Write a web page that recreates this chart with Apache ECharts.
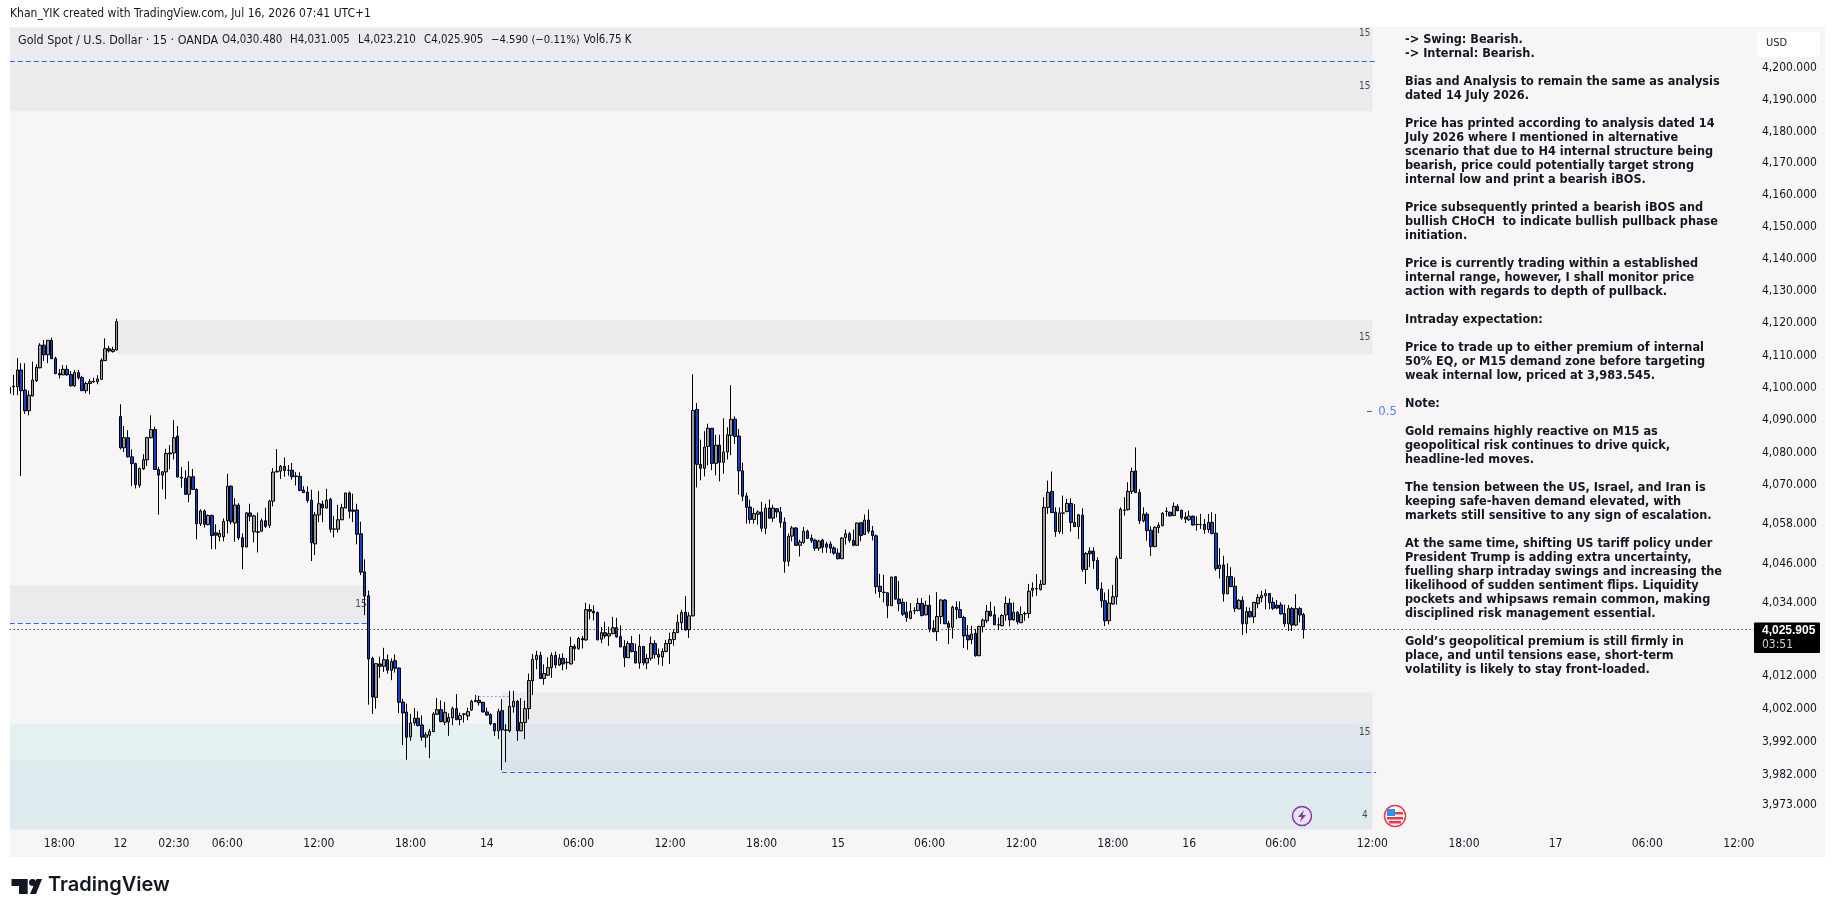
<!DOCTYPE html>
<html>
<head>
<meta charset="utf-8">
<title>Gold Spot / U.S. Dollar</title>
<script src="https://cdn.jsdelivr.net/npm/echarts@6/dist/echarts.min.js"></script>
<style>
html, body { margin: 0; padding: 0; background: #fff; }
#chart { width: 1835px; height: 917px; }
</style>
</head>
<body>
<div id="chart"></div>
<script>
// 15 minute bars: [open, close, low, high]
const candles = [
[4098.3,4100.1,4098.0,4100.4],[4100.3,4100.5,4097.7,4104.0],[4100.3,4105.5,4097.7,4109.2],[4105.5,4099.1,4072.8,4107.6],
[4099.3,4092.9,4091.9,4107.6],[4092.9,4097.7,4091.5,4099.1],[4097.5,4102.4,4097.3,4108.1],[4102.2,4106.3,4101.8,4107.3],
[4106.2,4113.2,4106.0,4113.8],[4113.2,4110.2,4108.3,4114.8],[4110.2,4114.7,4107.6,4114.8],[4114.7,4109.0,4108.9,4115.5],
[4109.1,4104.4,4104.2,4109.6],[4104.4,4104.0,4102.9,4105.8],[4104.0,4105.7,4103.9,4107.0],[4105.7,4104.0,4103.7,4107.0],
[4104.1,4100.6,4100.4,4105.2],[4100.6,4104.7,4100.3,4105.5],[4104.7,4103.1,4102.5,4105.5],[4103.2,4099.1,4099.0,4103.7],
[4099.1,4101.3,4098.3,4101.8],[4101.3,4101.9,4098.0,4102.7],[4101.8,4102.0,4101.6,4103.1],[4101.9,4102.7,4101.1,4103.9],
[4102.6,4108.5,4102.5,4109.1],[4108.4,4112.1,4108.3,4115.3],[4112.1,4111.4,4110.9,4113.0],[4111.2,4111.8,4110.9,4112.7],
[4111.7,4120.5,4111.6,4121.4],[4091.1,4081.5,4081.0,4094.9],[4081.5,4084.6,4080.2,4088.2],[4084.6,4078.7,4078.5,4086.9],
[4078.7,4076.6,4069.7,4081.0],[4076.6,4070.2,4069.0,4076.9],[4070.0,4075.1,4069.2,4075.4],[4075.0,4077.8,4074.7,4079.5],
[4077.8,4084.6,4075.9,4084.9],[4084.6,4087.1,4084.4,4091.5],[4087.1,4074.8,4074.7,4088.0],[4074.8,4073.1,4061.0,4075.6],
[4073.1,4074.1,4068.7,4074.3],[4074.1,4079.7,4065.7,4081.2],[4079.6,4079.9,4074.9,4082.3],[4079.9,4084.6,4077.9,4090.0],
[4085.1,4072.5,4072.4,4088.2],[4072.5,4072.2,4069.2,4075.6],[4072.1,4067.2,4067.0,4074.6],[4067.2,4072.6,4064.8,4077.3],
[4072.6,4068.7,4068.5,4075.0],[4068.7,4058.2,4053.4,4069.0],[4058.2,4062.1,4057.5,4062.6],[4062.1,4058.0,4057.0,4062.6],
[4057.9,4060.7,4057.7,4061.0],[4060.7,4054.6,4050.4,4061.0],[4055.4,4054.7,4050.4,4058.0],[4054.2,4055.2,4052.8,4056.3],
[4054.2,4058.9,4052.8,4059.8],[4059.1,4069.7,4055.2,4073.5],[4069.7,4058.8,4058.0,4070.0],[4058.4,4063.9,4052.7,4066.0],
[4063.9,4053.9,4053.2,4064.5],[4053.9,4051.1,4044.3,4055.2],[4051.1,4061.5,4051.0,4061.8],[4061.5,4060.5,4059.0,4064.3],
[4055.7,4060.6,4052.5,4060.9],[4055.6,4055.7,4049.4,4061.6],[4055.9,4059.1,4055.8,4059.8],[4059.1,4057.4,4056.9,4063.1],
[4057.7,4065.1,4056.9,4065.5],[4065.1,4074.0,4063.5,4075.3],[4074.1,4074.3,4073.9,4081.1],[4074.3,4075.8,4071.9,4076.2],
[4075.8,4074.5,4072.6,4078.5],[4074.5,4074.6,4072.9,4076.2],[4074.6,4072.6,4071.7,4076.8],[4072.8,4072.7,4069.9,4074.0],
[4072.7,4068.4,4068.2,4074.0],[4068.5,4067.7,4067.6,4069.7],[4067.9,4065.3,4064.6,4069.7],[4065.4,4052.4,4046.8,4068.6],
[4052.0,4060.9,4048.6,4061.8],[4060.9,4064.3,4058.7,4068.2],[4064.2,4063.0,4058.7,4065.3],[4063.0,4065.4,4062.8,4068.9],
[4065.7,4056.5,4055.5,4066.1],[4056.5,4056.6,4054.0,4060.6],[4056.5,4059.4,4055.5,4064.0],[4059.4,4063.1,4059.3,4064.3],
[4063.0,4067.6,4062.9,4067.7],[4067.6,4062.0,4059.8,4068.1],[4062.4,4062.0,4058.7,4067.4],[4062.4,4055.0,4051.9,4064.3],
[4055.1,4043.4,4042.5,4058.8],[4043.5,4036.1,4030.3,4047.3],[4036.2,4017.0,4003.2,4037.8],[4017.2,4005.5,4000.4,4017.7],
[4005.4,4015.6,4002.0,4015.7],[4015.5,4014.8,4011.3,4017.7],[4014.8,4016.8,4013.1,4020.4],[4016.8,4013.6,4012.6,4018.4],
[4013.6,4016.2,4010.6,4017.2],[4016.5,4014.2,4012.9,4018.4],[4014.3,4003.9,4000.7,4014.4],[4004.0,4000.7,3991.0,4005.0],
[4001.0,3993.4,3986.6,4003.5],[3993.5,3997.7,3992.3,4000.4],[3997.7,3999.1,3996.9,4002.2],[3999.1,3996.9,3996.6,4001.2],
[3997.1,3993.4,3992.3,4000.0],[3993.4,3994.1,3990.3,3994.9],[3994.0,3995.1,3987.1,3995.9],[3995.1,4000.4,3994.9,4000.9],
[4000.3,4001.7,4000.1,4005.2],[4001.7,3998.1,3997.9,4004.5],[3997.9,4000.9,3997.0,4004.0],[3998.0,3999.3,3993.8,4000.6],
[3999.2,4002.0,3997.0,4002.6],[4002.0,3998.7,3998.5,4006.4],[3998.7,3999.9,3997.0,4000.8],[4000.3,4000.4,3997.8,4000.6],
[3999.8,4001.1,3998.5,4002.3],[4001.6,4004.2,4001.3,4004.7],[4004.1,4004.5,4004.0,4006.1],[4004.5,4003.8,4002.9,4005.9],
[4003.9,4001.0,4000.9,4004.1],[4001.0,4000.1,3999.8,4002.3],[4000.2,3997.4,3997.0,4000.6],[3997.5,3995.3,3993.8,3997.6],
[3995.3,4001.1,3992.8,4002.0],[4001.4,3995.6,3983.5,4004.9],[3995.5,3995.6,3985.9,3997.3],[3995.3,4002.7,3994.8,4007.4],
[4002.6,4004.2,4000.8,4007.4],[4004.2,3995.3,3992.3,4004.6],[3995.3,3997.8,3995.2,4005.2],[3997.8,4002.0,3992.8,4004.4],
[4002.0,4010.5,3998.8,4012.6],[4010.4,4016.9,4006.1,4018.5],[4016.9,4018.1,4013.9,4019.5],[4018.1,4011.1,4011.0,4019.2],
[4011.1,4012.6,4009.2,4015.4],[4012.1,4014.4,4011.9,4017.5],[4014.4,4018.1,4011.3,4019.0],[4018.1,4015.2,4014.2,4019.3],
[4015.2,4017.2,4014.9,4018.5],[4017.2,4015.5,4013.6,4018.7],[4015.9,4016.0,4013.9,4017.3],[4015.5,4020.8,4015.4,4023.7],
[4020.8,4020.2,4016.5,4021.5],[4020.2,4023.2,4019.8,4023.7],[4023.2,4022.8,4020.2,4024.0],[4022.8,4032.0,4022.5,4034.1],
[4032.0,4031.5,4029.0,4033.6],[4031.5,4031.0,4028.7,4033.3],[4031.1,4022.8,4022.7,4031.4],[4023.0,4025.0,4021.8,4026.7],
[4025.0,4024.0,4023.2,4028.3],[4024.0,4024.7,4021.0,4026.8],[4024.7,4026.5,4024.5,4029.8],[4026.5,4023.7,4023.5,4029.5],
[4023.8,4020.7,4020.5,4027.2],[4020.8,4017.4,4014.6,4022.7],[4017.4,4021.7,4017.3,4022.5],[4021.7,4019.3,4019.0,4024.0],
[4019.3,4015.8,4015.7,4021.7],[4015.8,4020.8,4014.1,4024.5],[4020.8,4015.8,4015.1,4021.0],[4015.8,4017.2,4013.9,4018.5],
[4017.2,4021.7,4016.5,4023.8],[4021.7,4018.4,4017.2,4022.7],[4018.4,4017.6,4015.3,4020.2],[4017.6,4019.3,4014.9,4020.2],
[4019.3,4021.7,4019.0,4022.8],[4021.7,4022.9,4015.5,4025.0],[4022.9,4025.0,4021.0,4026.0],[4025.0,4028.1,4024.9,4030.5],
[4028.0,4031.1,4025.8,4031.9],[4031.2,4025.8,4025.6,4036.1],[4025.9,4030.1,4023.4,4031.2],[4030.1,4093.0,4029.9,4104.2],
[4093.3,4076.4,4069.3,4095.3],[4076.4,4075.2,4071.5,4084.0],[4075.2,4081.7,4072.7,4086.6],[4081.9,4087.5,4076.1,4088.9],
[4087.5,4076.7,4074.6,4087.6],[4076.7,4082.3,4073.0,4085.5],[4082.3,4077.0,4071.2,4085.5],[4077.0,4080.2,4073.5,4090.6],
[4080.2,4085.5,4077.9,4087.8],[4085.3,4090.3,4079.2,4100.8],[4090.3,4085.0,4082.7,4091.2],[4085.1,4074.4,4067.1,4087.3],
[4074.4,4066.6,4065.1,4076.9],[4066.7,4063.2,4058.2,4067.7],[4063.3,4059.5,4058.2,4065.6],[4059.5,4061.3,4058.2,4063.0],
[4061.1,4061.8,4057.9,4062.3],[4061.8,4056.8,4055.7,4064.9],[4056.8,4063.0,4055.0,4064.3],[4063.0,4059.9,4059.7,4065.6],
[4059.9,4063.0,4058.7,4064.0],[4062.8,4061.8,4060.1,4063.0],[4061.8,4058.6,4057.0,4063.3],[4058.7,4046.7,4043.2,4060.1],
[4046.7,4054.4,4045.2,4055.2],[4054.4,4056.9,4052.8,4057.5],[4056.9,4051.6,4051.5,4057.2],[4051.6,4052.6,4048.2,4053.3],
[4052.5,4055.9,4052.1,4057.2],[4055.9,4053.7,4053.6,4056.4],[4053.8,4053.0,4052.3,4054.9],[4053.2,4050.7,4049.9,4053.6],
[4050.7,4052.9,4049.9,4053.3],[4053.2,4051.0,4049.3,4053.6],[4052.0,4051.0,4049.3,4052.6],[4052.0,4050.7,4049.2,4052.8],
[4050.8,4049.2,4048.7,4051.3],[4049.2,4047.5,4047.3,4050.6],[4047.5,4053.8,4047.4,4054.1],[4054.0,4055.1,4051.8,4056.4],
[4055.1,4053.1,4052.4,4055.7],[4053.1,4051.6,4051.3,4056.4],[4051.6,4058.4,4051.5,4058.5],[4058.5,4054.6,4052.8,4058.7],
[4054.9,4059.3,4054.8,4061.0],[4059.3,4055.9,4055.2,4062.5],[4056.0,4054.6,4053.1,4057.5],[4054.5,4039.0,4036.8,4054.9],
[4039.1,4037.5,4035.6,4042.9],[4037.2,4037.3,4034.2,4042.6],[4037.1,4033.2,4029.4,4037.3],[4033.2,4041.9,4033.1,4042.0],
[4042.0,4035.2,4035.0,4042.2],[4035.2,4033.8,4031.5,4040.7],[4034.2,4030.6,4030.1,4035.4],[4031.2,4029.6,4028.3,4034.4],
[4029.3,4031.5,4029.1,4034.0],[4031.6,4031.7,4030.6,4032.7],[4031.7,4033.9,4031.5,4035.5],[4033.9,4030.2,4029.9,4035.5],
[4030.4,4033.3,4030.3,4034.7],[4033.3,4026.1,4025.1,4036.4],[4026.3,4025.3,4025.1,4028.8],[4025.3,4029.9,4022.5,4037.3],
[4029.9,4034.9,4027.6,4035.2],[4034.9,4027.7,4027.6,4035.2],[4027.8,4026.6,4021.5,4028.6],[4026.6,4032.7,4023.2,4033.2],
[4032.7,4032.0,4029.1,4034.5],[4032.0,4029.6,4029.4,4034.5],[4029.6,4024.0,4020.3,4030.1],[4024.2,4022.8,4019.8,4027.3],
[4022.9,4024.6,4021.5,4027.1],[4024.8,4018.0,4017.7,4026.1],[4018.0,4026.9,4017.9,4027.1],[4026.8,4028.8,4025.1,4029.3],
[4028.6,4031.5,4027.9,4033.4],[4031.5,4030.1,4029.9,4034.4],[4030.4,4027.4,4027.3,4033.0],[4027.3,4027.4,4025.9,4029.6],
[4027.1,4030.2,4026.9,4030.6],[4030.4,4033.9,4028.6,4036.0],[4033.9,4028.9,4026.9,4035.4],[4028.9,4031.2,4028.6,4034.2],
[4031.2,4028.3,4027.5,4031.5],[4028.0,4030.5,4027.9,4033.0],[4030.7,4030.8,4028.6,4031.4],[4030.8,4037.6,4029.4,4039.8],
[4037.9,4038.5,4035.9,4040.3],[4038.3,4038.4,4036.2,4042.8],[4038.1,4039.7,4037.8,4041.0],[4039.7,4063.2,4039.6,4066.3],
[4063.2,4067.8,4061.2,4071.4],[4068.1,4061.6,4061.5,4074.2],[4061.7,4055.8,4054.2,4063.2],[4055.8,4061.5,4055.1,4063.2],
[4061.4,4061.5,4055.1,4066.8],[4061.9,4064.4,4061.7,4065.8],[4064.4,4058.6,4055.8,4066.0],[4058.6,4057.3,4057.2,4064.2],
[4057.3,4060.9,4053.5,4061.2],[4060.8,4044.2,4043.5,4062.9],[4044.2,4049.1,4039.8,4049.5],[4049.8,4049.0,4044.9,4051.0],
[4049.8,4046.9,4044.4,4051.0],[4047.0,4038.3,4037.7,4047.9],[4038.3,4034.7,4032.6,4040.3],[4034.7,4028.6,4027.0,4037.2],
[4028.6,4034.0,4027.5,4038.2],[4033.7,4035.9,4033.5,4039.5],[4035.9,4047.6,4033.5,4048.4],[4047.6,4062.6,4047.4,4063.2],
[4062.3,4062.4,4060.7,4066.3],[4062.5,4068.1,4062.2,4070.9],[4068.1,4074.2,4067.3,4075.4],[4074.4,4067.7,4067.6,4081.6],
[4067.8,4059.1,4058.1,4068.8],[4059.1,4061.1,4058.6,4063.2],[4061.1,4056.1,4053.0,4061.7],[4056.2,4051.2,4048.4,4057.4],
[4051.2,4057.1,4051.0,4057.4],[4057.0,4057.7,4055.3,4058.6],[4057.6,4061.4,4057.4,4061.7],[4061.9,4062.0,4060.5,4063.2],
[4061.7,4060.6,4060.4,4061.9],[4060.7,4063.5,4060.5,4064.7],[4063.5,4062.2,4062.0,4064.2],[4062.3,4060.0,4059.4,4062.5],
[4060.2,4059.6,4058.4,4061.7],[4059.4,4060.5,4059.1,4062.2],[4060.5,4057.8,4057.6,4060.7],[4057.9,4058.0,4056.1,4060.5],
[4057.9,4058.0,4056.6,4061.2],[4058.0,4056.4,4055.1,4059.6],[4056.4,4058.6,4055.4,4061.2],[4058.6,4055.2,4054.9,4061.7],
[4055.3,4044.5,4043.8,4061.2],[4044.5,4045.5,4041.5,4050.7],[4045.6,4036.8,4034.4,4048.4],[4036.8,4042.1,4036.7,4046.1],
[4042.1,4039.0,4038.8,4044.9],[4039.1,4032.4,4031.3,4041.8],[4032.2,4034.8,4032.1,4035.2],[4034.8,4027.7,4024.3,4036.0],
[4027.7,4031.4,4024.8,4032.8],[4031.4,4029.8,4029.6,4032.6],[4029.8,4034.2,4027.9,4034.3],[4033.8,4035.7,4032.4,4036.7],
[4035.6,4036.3,4034.2,4037.7],[4036.2,4036.9,4032.1,4038.2],[4036.9,4034.1,4032.1,4037.0],[4034.2,4032.4,4031.9,4035.7],
[4033.3,4032.5,4032.1,4034.9],[4033.4,4030.7,4030.5,4034.2],[4030.8,4027.7,4026.8,4033.5],[4027.7,4032.3,4025.5,4033.4],
[4032.3,4027.3,4025.5,4032.8],[4027.3,4032.3,4027.0,4036.7],[4032.3,4030.4,4028.1,4032.8],[4030.48,4025.905,4023.21,4031.005]
]

const lastPrice = 4025.905

// x axis: bar slots, only some of them carry a label
const slotCount = 458
const timeTickSlots = [13, 29, 43, 57, 81, 105, 125, 149, 173, 197, 217, 241, 265, 289, 309, 333, 357, 381, 405, 429, 453]
const timeTickLabels = ['18:00', '12', '02:30', '06:00', '12:00', '18:00', '14', '06:00', '12:00', '18:00', '15', '06:00', '12:00', '18:00', '16', '06:00', '12:00', '18:00', '17', '06:00', '12:00']

// price axis
const priceTicks = [4200, 4190, 4180, 4170, 4160, 4150, 4140, 4130, 4120, 4110, 4100, 4090, 4080, 4070, 4058, 4046, 4034, 4012, 4002, 3992, 3982, 3973]
const priceMin = 3965.7
const priceMax = 4212.9

// zones, split where they overlap: slot from, slot to, price top, price bottom
const zoneBounds = [
  [0, 357, 4212.9, 4186.4],
  [28, 357, 4120.9, 4110.3],
  [0, 94, 4039.4, 4028.0],
  [129, 357, 4006.9, 3997.5],
  [0, 129, 3997.5, 3986.7],
  [129, 357, 3997.5, 3986.7],
  [0, 129, 3986.7, 3965.7],
  [129, 357, 3986.7, 3983.0],
  [129, 357, 3983.0, 3965.7],
]
const zoneColors = ['#ebebed', '#ebebed', '#ebebed', '#ebebed', '#e5f0f1', '#dfe6ed', '#dfeaef', '#dbe3ea', '#dfeaef']

// dashed levels: slot from, slot to, price
const dashedLevels = [
  [0, 358, 4202.05],
  [0, 94, 4028.0],
  [129, 358, 3983.0],
]
const dottedLevels = [[122, 131, 4005.6]]

// small zone notes
const noteSlots = [355, 355, 355, 92, 355, 355, 361]
const notePrices = [4211.0, 4194.2, 4115.6, 4033.6, 3994.9, 3969.9, 4092.5]
const noteTexts = ['15', '15', '15', '15', '15', '4', '0.5']

const captionText = 'Khan_YIK created with TradingView.com, Jul 16, 2026 07:41 UTC+1'
const legendTexts = ['Gold Spot / U.S. Dollar · 15 · OANDA', 'O4,030.480', 'H4,031.005', 'L4,023.210', 'C4,025.905', '−4.590 (−0.11%)', 'Vol6.75 K']
const legendOffsets = [18, 222, 290, 358, 424, 491, 583.5]
const legendSizes = [12.4, 11.4, 11.4, 11.4, 11.4, 11.2, 11.4]
const noteLines = [
  '-> Swing: Bearish.',
  '-> Internal: Bearish.',
  '',
  'Bias and Analysis to remain the same as analysis',
  'dated 14 July 2026.',
  '',
  'Price has printed according to analysis dated 14',
  'July 2026 where I mentioned in alternative',
  'scenario that due to H4 internal structure being',
  'bearish, price could potentially target strong',
  'internal low and print a bearish iBOS.',
  '',
  'Price subsequently printed a bearish iBOS and',
  'bullish CHoCH  to indicate bullish pullback phase',
  'initiation.',
  '',
  'Price is currently trading within a established',
  'internal range, however, I shall monitor price',
  'action with regards to depth of pullback.',
  '',
  'Intraday expectation:',
  '',
  'Price to trade up to either premium of internal',
  '50% EQ, or M15 demand zone before targeting',
  'weak internal low, priced at 3,983.545.',
  '',
  'Note:',
  '',
  'Gold remains highly reactive on M15 as',
  'geopolitical risk continues to drive quick,',
  'headline-led moves.',
  '',
  'The tension between the US, Israel, and Iran is',
  'keeping safe-haven demand elevated, with',
  'markets still sensitive to any sign of escalation.',
  '',
  'At the same time, shifting US tariff policy under',
  'President Trump is adding extra uncertainty,',
  'fuelling sharp intraday swings and increasing the',
  'likelihood of sudden sentiment flips. Liquidity',
  'pockets and whipsaws remain common, making',
  'disciplined risk management essential.',
  '',
  'Gold’s geopolitical premium is still firmly in',
  'place, and until tensions ease, short-term',
  'volatility is likely to stay front-loaded.',
]

const AXIS_FONT = '"DejaVu Sans Condensed", "Liberation Sans", sans-serif'
const TEXT_COLOR = '#131722'
const BLUE_LINE = '#2962ff'

const categories = []
for (let i = 0; i < slotCount; i++) {
  const at = timeTickSlots.indexOf(i)
  categories.push(at >= 0 ? timeTickLabels[at] : '')
}

const levelLine = (l, dash) => [
  { coord: [l[0], l[2]], lineStyle: { color: BLUE_LINE, type: dash, width: 1, opacity: 1 } },
  { coord: [l[1], l[2]], lineStyle: { color: BLUE_LINE, type: dash, width: 1, opacity: 1 } },
]

const chart = echarts.init(document.getElementById('chart'))
const option = {
  animation: false,
  backgroundColor: '#ffffff',
  textStyle: { fontFamily: AXIS_FONT },
  grid: { left: 7.8, top: 27.5, width: 1748.2, height: 802, containLabel: false },
  xAxis: {
    type: 'category',
    data: categories,
    axisLine: { show: false },
    axisTick: { show: false },
    splitLine: { show: false },
    axisLabel: {
      interval: (i, v) => v !== '',
      hideOverlap: false,
      color: TEXT_COLOR,
      fontSize: 12,
      margin: 8,
      fontFamily: AXIS_FONT,
    },
  },
  yAxis: {
    type: 'log',
    logBase: 10,
    position: 'right',
    min: priceMin,
    max: priceMax,
    axisLine: { show: false },
    axisTick: { show: false },
    splitLine: { show: false },
    axisLabel: {
      customValues: priceTicks,
      color: TEXT_COLOR,
      fontSize: 12,
      margin: 6,
      fontFamily: AXIS_FONT,
      formatter: (v) => Number(v).toLocaleString('en-US', { minimumFractionDigits: 3, maximumFractionDigits: 3 }),
    },
  },
  series: [
    {
      type: 'candlestick',
      data: candles,
      barWidth: 3,
      clip: true,
      itemStyle: {
        color: '#9a9a9a',
        color0: '#1141c8',
        borderColor: '#000000',
        borderColor0: '#000000',
        borderColorDoji: '#000000',
        borderWidth: 1,
      },
      markArea: {
        silent: true,
        data: zoneBounds.map((z, i) => [
          { coord: [z[0], z[2]], itemStyle: { color: zoneColors[i], opacity: 1 } },
          { coord: [z[1], z[3]] },
        ]),
      },
      markLine: {
        silent: true,
        symbol: 'none',
        label: { show: false },
        lineStyle: { color: BLUE_LINE, width: 1 },
        data: dashedLevels.map((l) => levelLine(l, [5, 3]))
          .concat(dottedLevels.map((l) => levelLine(l, [1, 3])))
          .concat([[
            { coord: [0, lastPrice], lineStyle: { color: '#000000', type: [1, 3], width: 1 } },
            { coord: [slotCount - 1, lastPrice], lineStyle: { color: '#000000', type: [1, 3], width: 1 } },
          ]]),
      },
    },
    {
      type: 'scatter',
      symbolSize: 0,
      silent: true,
      z: 5,
      data: noteTexts.map((t, i) => ({
        value: [noteSlots[i], notePrices[i]],
        label: {
          show: true,
          position: 'inside',
          formatter: t,
          fontSize: t === '0.5' ? 13 : 10,
          color: t === '0.5' ? BLUE_LINE : '#1c1f28',
          fontFamily: AXIS_FONT,
        },
      })),
    },
  ],
  graphic: [
    // pane background
    { type: 'rect', z: -10, silent: true, shape: { x: 10, y: 27, width: 1815, height: 830 }, style: { fill: '#f7f5f6' } },
    // left margin stays white over the first clipped bar
    { type: 'rect', z: 50, silent: true, shape: { x: 0, y: 27, width: 10, height: 830 }, style: { fill: '#ffffff' } },
    { type: 'text', z: 60, x: 10, y: 8, style: { text: captionText, fill: TEXT_COLOR, font: '12px ' + AXIS_FONT } },
    ...legendTexts.map((t, i) => ({
      type: 'text', z: 60, x: legendOffsets[i], y: 35,
      style: { text: t, fill: TEXT_COLOR, font: legendSizes[i] + 'px ' + AXIS_FONT },
    })),
    {
      type: 'text', z: 60, x: 1405, y: 33,
      style: { text: noteLines.join('\n'), fill: '#131722', font: 'bold 12.6px ' + AXIS_FONT, lineHeight: 14 },
    },
    // blue tick next to the 0.5 level
    { type: 'rect', z: 60, silent: true, shape: { x: 1367, y: 411, width: 5, height: 1 }, style: { fill: BLUE_LINE } },
    // currency box
    { type: 'rect', z: 60, shape: { x: 1757, y: 32, width: 63, height: 25, r: 3 }, style: { fill: '#ffffff' } },
    { type: 'text', z: 61, x: 1766, y: 38, style: { text: 'USD', fill: TEXT_COLOR, font: '11px ' + AXIS_FONT } },
    // last price box
    { type: 'rect', z: 60, shape: { x: 1754, y: 622.5, width: 66, height: 30.5, r: 1 }, style: { fill: '#000000' } },
    { type: 'text', z: 61, x: 1762, y: 625, style: { text: '4,025.905', fill: '#ffffff', font: 'bold 12px "Liberation Sans", sans-serif' } },
    { type: 'text', z: 61, x: 1762, y: 639, style: { text: '03:51', fill: '#cfcfcf', font: '12px ' + AXIS_FONT } },
    // bolt marker
    { type: 'circle', z: 60, shape: { cx: 1302, cy: 816, r: 9.5 }, style: { fill: 'none', stroke: '#9c27b0', lineWidth: 1.5 } },
    { type: 'polygon', z: 61, shape: { points: [[1304, 810], [1298, 817], [1301.5, 817], [1300, 822], [1306, 815], [1302.5, 815]] }, style: { fill: '#9c27b0' } },
    // US flag marker
    { type: 'circle', z: 60, shape: { cx: 1395, cy: 816, r: 10.5 }, style: { fill: '#ffffff', stroke: '#f23645', lineWidth: 1.5 } },
    { type: 'rect', z: 61, shape: { x: 1387, y: 812, width: 16, height: 2.5 }, style: { fill: '#f23645' } },
    { type: 'rect', z: 61, shape: { x: 1387, y: 817, width: 16, height: 2.5 }, style: { fill: '#f23645' } },
    { type: 'rect', z: 61, shape: { x: 1389, y: 821, width: 12, height: 2.5 }, style: { fill: '#f23645' } },
    { type: 'rect', z: 62, shape: { x: 1387, y: 809, width: 8, height: 7 }, style: { fill: '#2196f3' } },
    // TradingView mark
    { type: 'polygon', z: 60, shape: { points: [[11.5, 879], [27.7, 879], [27.7, 894], [19, 894], [19, 886], [11.5, 886]] }, style: { fill: '#131722' } },
    { type: 'circle', z: 60, shape: { cx: 32.5, cy: 882.5, r: 3.4 }, style: { fill: '#131722' } },
    { type: 'polygon', z: 60, shape: { points: [[36.5, 879], [42, 879], [36, 894], [30, 894]] }, style: { fill: '#131722' } },
    { type: 'text', z: 60, x: 48, y: 875, style: { text: 'TradingView', fill: '#131722', font: '600 20px Inter, "Liberation Sans", sans-serif' } },
  ],
}
chart.setOption(option)
</script>
</body>
</html>
